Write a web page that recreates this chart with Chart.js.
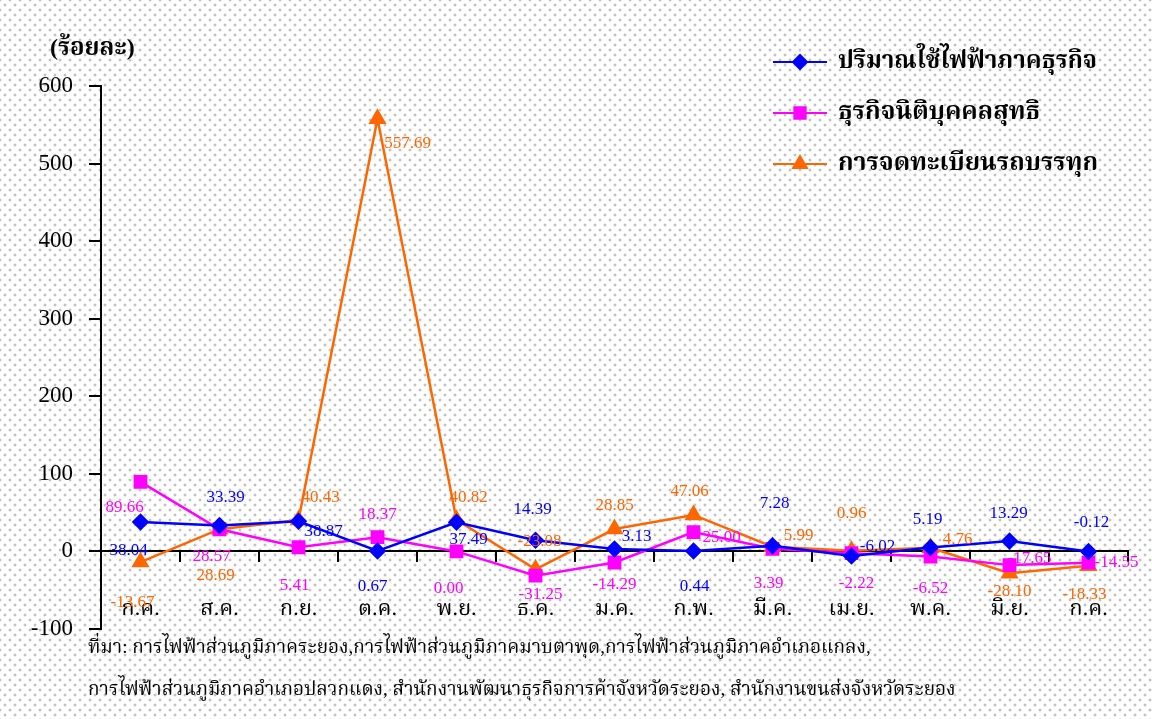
<!DOCTYPE html>
<html>
<head>
<meta charset="utf-8">
<script src="https://cdn.jsdelivr.net/npm/chart.js@4.4.1/dist/chart.umd.min.js"></script>
<style>
  html, body { margin: 0; padding: 0; }
  body {
    width: 1152px; height: 719px; overflow: hidden;
    background-color: #ffffff;
    background-image:
      radial-gradient(circle at center, #b8b8b8 0, #c4c4c4 0.9px, rgba(255,255,255,0) 1.9px),
      radial-gradient(circle at center, #b8b8b8 0, #c4c4c4 0.9px, rgba(255,255,255,0) 1.9px);
    background-size: 10px 10px, 10px 10px;
    background-position: 0 0, 5px 5px;
  }
  #wrap { position: absolute; left: 0; top: 0; width: 1152px; height: 719px; }
</style>
</head>
<body>
<div id="wrap"><canvas id="c" width="1152" height="719"></canvas></div>
<script>
// ---- data ----
const months = ['ก.ค.','ส.ค.','ก.ย.','ต.ค.','พ.ย.','ธ.ค.','ม.ค.','ก.พ.','มี.ค.','เม.ย.','พ.ค.','มิ.ย.','ก.ค.'];
const seriesNames = ['ปริมาณใช้ไฟฟ้าภาคธุรกิจ','ธุรกิจนิติบุคคลสุทธิ','การจดทะเบียนรถบรรทุก'];
const electricity = [38.04, 33.39, 38.87, 0.67, 37.49, 14.39, 3.13, 0.44, 7.28, -6.02, 5.19, 13.29, -0.12];
const juristic    = [89.66, 28.57, 5.41, 18.37, 0.00, -31.25, -14.29, 25.00, 3.39, -2.22, -6.52, -17.65, -14.55];
const trucks      = [-13.67, 28.69, 40.43, 557.69, 40.82, -23.08, 28.85, 47.06, 5.99, 0.96, 4.76, -28.10, -18.33];
const yMin = -100, yMax = 600, yStep = 100;
const unitTitle = '(ร้อยละ)';
const sourceLines = [
  'ที่มา: การไฟฟ้าส่วนภูมิภาคระยอง,การไฟฟ้าส่วนภูมิภาคมาบตาพุด,การไฟฟ้าส่วนภูมิภาคอำเภอแกลง,',
  'การไฟฟ้าส่วนภูมิภาคอำเภอปลวกแดง, สำนักงานพัฒนาธุรกิจการค้าจังหวัดระยอง, สำนักงานขนส่งจังหวัดระยอง'
];

// ---- styles ----
const SERIF = "'Liberation Serif', 'Noto Serif Thai', 'Noto Sans Thai', 'Times New Roman', serif";
const colors = ['#0000FF', '#FF00FF', '#FF6600'];
// label offsets (pixels) relative to each point, per series
const labelOffsets = [
  [[-12,29],[6,-28],[25,10],[-5,36],[12,17],[-3,-31],[22,-12],[1,35],[2,-42],[26,-10],[-3,-28],[-1,-28],[3,-29]],
  [[-16,26],[-8,27],[-4,38],[0,-23],[-8,37],[5,19],[0,22],[28,5],[-4,35],[5,30],[0,32],[20,-7],[28,0]],
  [[-8,40],[-4,46],[22,-23],[30,25],[12,-22],[4,-28],[0,-24],[-4,-23],[26,-11],[0,-37],[27,-8],[0,18],[-4,29]]
];

const decorPlugin = {
  id: 'decor',
  afterDatasetsDraw(chart) {
    const ctx = chart.ctx;
    ctx.save();
    chart.data.datasets.forEach((ds, di) => {
      const meta = chart.getDatasetMeta(di);
      ctx.font = "17px " + SERIF;
      ctx.fillStyle = colors[di];
      ctx.textAlign = 'center';
      ctx.textBaseline = 'middle';
      meta.data.forEach((pt, i) => {
        const off = labelOffsets[di][i];
        ctx.fillText(ds.data[i].toFixed(2), pt.x + off[0], pt.y + off[1]);
      });
    });
    ctx.restore();
  },
  afterDraw(chart) {
    const ctx = chart.ctx;
    ctx.save();
    ctx.fillStyle = '#000';
    ctx.font = "bold 24px " + SERIF;
    ctx.textAlign = 'left';
    ctx.textBaseline = 'middle';
    ctx.fillText(unitTitle, 50, 49, 92);
    const rowsY = [62, 113, 164];
    const widths = [259, 202, 260];
    chart.data.datasets.forEach((ds, di) => {
      const y = rowsY[di];
      ctx.strokeStyle = colors[di];
      ctx.lineWidth = 2;
      ctx.beginPath();
      ctx.moveTo(773, y);
      ctx.lineTo(827, y);
      ctx.stroke();
      Chart.helpers.drawPoint(ctx, {
        pointStyle: ds.pointStyle, radius: ds.pointRadius, rotation: 0, borderWidth: 1
      }, 800, y);
      ctx.fillStyle = colors[di];
      ctx.fill();
      ctx.fillStyle = '#000';
      ctx.font = "bold 25px " + SERIF;
      ctx.textAlign = 'left';
      ctx.textBaseline = 'middle';
      ctx.fillText(ds.label, 838, y, widths[di]);
    });
    ctx.font = "19px " + SERIF;
    ctx.fillStyle = '#000';
    ctx.fillText(sourceLines[0], 88, 648, 794);
    ctx.fillText(sourceLines[1], 88, 690, 890);
    ctx.restore();
  }
};

const mkDs = (label, data, color, style, r) => ({
  label, data,
  borderColor: color, backgroundColor: color,
  pointBackgroundColor: color, pointBorderColor: color,
  borderWidth: 2.5, pointStyle: style, pointRadius: r, pointHoverRadius: r,
  tension: 0, fill: false
});

new Chart(document.getElementById('c'), {
  type: 'line',
  data: {
    labels: months,
    datasets: [
      mkDs(seriesNames[0], electricity, colors[0], 'rectRot', 7),
      mkDs(seriesNames[1], juristic, colors[1], 'rect', 8),
      mkDs(seriesNames[2], trucks, colors[2], 'triangle', 8)
    ]
  },
  options: {
    responsive: false,
    animation: false,
    events: [],
    layout: { padding: { left: 0, top: 86, right: 24, bottom: 90 } },
    plugins: { legend: { display: false }, title: { display: false }, tooltip: { enabled: false } },
    scales: {
      x: {
        type: 'category',
        position: { y: 0 },
        offset: true,
        grid: { offset: true, drawOnChartArea: false, drawTicks: true, tickLength: 10, color: '#000', lineWidth: 2 },
        border: { display: true, color: '#000', width: 2 },
        ticks: { color: '#000', font: { family: SERIF, size: 22 }, padding: 35, maxRotation: 0, autoSkip: false }
      },
      y: {
        min: yMin, max: yMax,
        afterFit(scale) { scale.width = 101; },
        grid: { drawOnChartArea: false, tickLength: 12, color: '#000', lineWidth: 2 },
        border: { display: true, color: '#000', width: 2 },
        ticks: { stepSize: yStep, color: '#000', font: { family: SERIF, size: 23 }, padding: 16 }
      }
    }
  },
  plugins: [decorPlugin]
});
</script>
</body>
</html>
